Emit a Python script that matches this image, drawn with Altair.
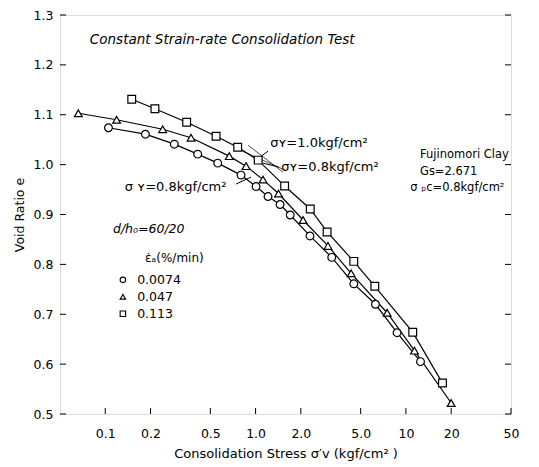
import altair as alt
import pandas as pd

# ---- data ----
rates = ["0.0074", "0.047", "0.113"]

c_x = [0.105, 0.185, 0.288, 0.412, 0.56, 0.80, 1.007, 1.21, 1.455, 1.70, 2.30, 3.21, 4.50, 6.27, 8.73, 12.5]
c_y = [1.074, 1.061, 1.041, 1.021, 1.003, 0.979, 0.956, 0.936, 0.920, 0.899, 0.857, 0.814, 0.761, 0.720, 0.663, 0.605]

t_x = [0.0662, 0.119, 0.241, 0.372, 0.668, 0.864, 1.12, 1.42, 2.07, 3.03, 4.32, 7.50, 11.4, 20.0]
t_y = [1.103, 1.090, 1.071, 1.054, 1.017, 0.997, 0.970, 0.942, 0.889, 0.837, 0.782, 0.703, 0.627, 0.522]

s_x = [0.150, 0.214, 0.348, 0.546, 0.76, 1.04, 1.56, 2.31, 2.99, 4.50, 6.21, 11.1, 17.5]
s_y = [1.131, 1.112, 1.085, 1.057, 1.035, 1.009, 0.957, 0.911, 0.865, 0.806, 0.756, 0.664, 0.562]

x_ticks = [0.1, 0.2, 0.5, 1.0, 2.0, 5.0, 10, 20, 50]
y_ticks = [0.5, 0.6, 0.7, 0.8, 0.9, 1.0, 1.1, 1.2, 1.3]

# annotation texts (positions in data units)
ann_text = ["Constant Strain-rate Consolidation Test", "Fujinomori Clay", "Gs=2.671",
            "σ \u209a\u1d04=0.8kgf/cm\u00b2", "σ\u028f=1.0kgf/cm\u00b2", "σ\u028f=0.8kgf/cm\u00b2",
            "σ \u028f=0.8kgf/cm\u00b2", "d/h\u2080=60/20", "ε\u0307\u2090(%/min)"]
ann_x = [0.079, 12.4, 12.4, 10.7, 1.25, 1.48, 0.135, 0.1125, 0.184]
ann_y = [1.25, 1.019, 0.985, 0.953, 1.043, 0.995, 0.955, 0.871, 0.813]
ann_size = [13.5, 11.5, 11.5, 11.5, 13, 13, 13, 12.5, 12]
ann_style = ["italic", "normal", "normal", "normal", "normal", "normal", "normal", "italic", "normal"]

# leader and construction lines
seg_x = [1.21, 1.43, 0.741, 0.891, 0.789]
seg_y = [1.027, 0.995, 0.961, 1.039, 1.029]
seg_x2 = [1.09, 1.12, 0.933, 1.52, 1.57]
seg_y2 = [1.017, 1.003, 0.975, 0.985, 0.989]
seg_w = [1.0, 1.0, 1.0, 0.7, 0.7]

# legend
leg_sym_x = 0.131
leg_lab_x = 0.163
leg_y = [0.769, 0.735, 0.701]

FONT = "DejaVu Sans"

df = pd.concat([
    pd.DataFrame({"x": c_x, "y": c_y, "rate": rates[0]}),
    pd.DataFrame({"x": t_x, "y": t_y, "rate": rates[1]}),
    pd.DataFrame({"x": s_x, "y": s_y, "rate": rates[2]}),
], ignore_index=True)

xscale = alt.Scale(type="log", domain=[0.05, 50], nice=False)
yscale = alt.Scale(domain=[0.5, 1.3], nice=False, zero=False)
shape_scale = alt.Scale(domain=rates, range=["circle", "triangle-up", "square"])

xaxis = alt.Axis(values=x_ticks, ticks=False, grid=False, domain=False,
                 labelExpr="datum.value >= 10 ? format(datum.value, 'd') : format(datum.value, '.1f')",
                 labelFont=FONT, labelFontSize=12.5, labelPadding=13, labelColor="black",
                 title="Consolidation Stress σ\u2032v (kgf/cm\u00b2 )", titleFont=FONT,
                 titleFontSize=13, titleFontWeight="normal", titlePadding=8, titleColor="black",
                 labelFlush=False, labelOverlap=False)
yaxis = alt.Axis(values=y_ticks, ticks=False, grid=False, domain=False, format=".1f",
                 labelFont=FONT, labelFontSize=12.5, labelPadding=7, labelColor="black",
                 title="Void Ratio e", titleFont=FONT, titleFontSize=12.5,
                 titleFontWeight="normal", titlePadding=7, titleColor="black",
                 labelFlush=False, labelOverlap=False)

X = lambda f="x": alt.X(f"{f}:Q", scale=xscale, axis=xaxis)
Y = lambda f="y": alt.Y(f"{f}:Q", scale=yscale, axis=yaxis)

lines = alt.Chart(df).mark_line(color="black", strokeWidth=1.2).encode(
    x=X(), y=Y(), detail="rate:N")
points = alt.Chart(df).mark_point(filled=True, fill="white", stroke="black",
                                  strokeWidth=1.2, size=60, opacity=1).encode(
    x=X(), y=Y(), shape=alt.Shape("rate:N", scale=shape_scale, legend=None))

segs = alt.Chart(pd.DataFrame({"x": seg_x, "y": seg_y, "x2": seg_x2, "y2": seg_y2, "w": seg_w})).mark_rule(
    color="black").encode(x=X(), y=Y(), x2="x2:Q", y2="y2:Q",
                          strokeWidth=alt.StrokeWidth("w:Q", scale=None))

ann_df = pd.DataFrame({"x": ann_x, "y": ann_y, "t": ann_text, "st": ann_style, "fs": ann_size})
ann = alt.Chart(ann_df).mark_text(
    align="left", baseline="middle", font=FONT, color="black").encode(
    x=X(), y=Y(), text="t:N", size=alt.Size("fs:Q", scale=None, legend=None))
ann_it = ann.transform_filter("datum.st == 'italic'").mark_text(
    align="left", baseline="middle", font=FONT, fontStyle="italic", color="black")
ann_no = ann.transform_filter("datum.st == 'normal'")

leg_df = pd.DataFrame({"x": leg_sym_x, "y": leg_y, "rate": rates, "xl": leg_lab_x})
leg_pts = alt.Chart(leg_df).mark_point(filled=True, fill="white", stroke="black",
                                       strokeWidth=1.1, size=30, opacity=1).encode(
    x=X(), y=Y(), shape=alt.Shape("rate:N", scale=shape_scale, legend=None))
leg_txt = alt.Chart(leg_df).mark_text(align="left", baseline="middle", font=FONT,
                                      fontSize=12.5, color="black").encode(
    x=X("xl"), y=Y(), text="rate:N")

yt = pd.DataFrame({"y": y_ticks})
xt = pd.DataFrame({"x": x_ticks})
ytl = alt.Chart(yt).mark_rule(color="black", strokeWidth=1).encode(
    y=Y(), x=alt.value(0), x2=alt.value(6))
ytr = alt.Chart(yt).mark_rule(color="black", strokeWidth=1).encode(
    y=Y(), x=alt.value(451), x2=alt.value(445))
xtb = alt.Chart(xt).mark_rule(color="black", strokeWidth=1).encode(
    x=X(), y=alt.value(399), y2=alt.value(393))

chart = alt.layer(ytl, ytr, xtb, segs, lines, points, ann_no, ann_it, leg_pts, leg_txt).properties(
    width=451, height=399,
    autosize=alt.AutoSizeParams(type="none"),
    padding={"left": 52, "top": 7, "right": 20, "bottom": 52},
).configure_view(stroke="black", strokeWidth=1.5).configure(background="white")

chart.save("out.html", embed_options={"renderer": "svg", "actions": False})
